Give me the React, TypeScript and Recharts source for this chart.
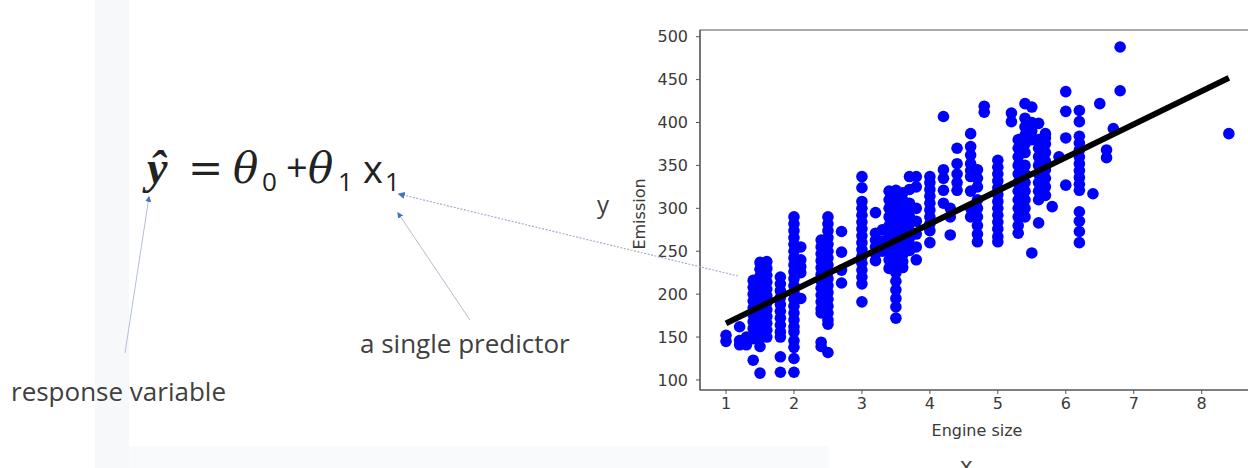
import React from 'react';
import { ScatterChart, Scatter, XAxis, YAxis, ReferenceArea } from 'recharts';

// Engine sizes (x) and the emissions observed at each size (y)
const engineSizes = [1.0, 1.2, 1.3, 1.4, 1.5, 1.6, 1.8, 2.0, 2.1, 2.4, 2.5, 2.7, 3.0, 3.2, 3.3, 3.4, 3.5, 3.6, 3.7, 3.8, 4.0, 4.2, 4.3, 4.4, 4.6, 4.7, 4.8, 5.0, 5.2, 5.3, 5.4, 5.5, 5.6, 5.7, 5.8, 5.9, 6.0, 6.2, 6.4, 6.5, 6.6, 6.7, 6.8, 8.4];
const emissionsBySize: number[][] = [
  [152, 145],
  [162, 146, 141],
  [141, 150],
  [216, 208, 200, 192, 184, 176, 168, 160, 152, 148, 123],
  [237, 229, 221, 213, 205, 197, 189, 181, 173, 165, 157, 150, 139, 108],
  [238, 230, 222, 214, 206, 198, 190, 182, 174, 166, 158, 150],
  [220, 212, 204, 196, 188, 180, 172, 164, 156, 150, 127, 109],
  [290, 282, 274, 266, 258, 250, 242, 234, 226, 218, 210, 202, 194, 186, 178, 170, 162, 156, 146, 138, 125, 109],
  [255, 240, 232, 225, 195],
  [263, 255, 247, 239, 231, 223, 215, 207, 199, 191, 183, 178, 144, 139],
  [290, 282, 274, 266, 258, 250, 242, 234, 226, 218, 210, 202, 194, 186, 178, 170, 165, 132],
  [273, 249, 228, 213],
  [337, 324, 308, 300, 292, 284, 276, 268, 260, 252, 244, 236, 228, 220, 212, 191],
  [295, 271, 263, 255, 247, 239],
  [275, 262, 250],
  [320, 310, 300, 290, 280, 270, 260, 250, 240, 230],
  [321, 313, 305, 297, 289, 281, 273, 265, 257, 249, 241, 233, 225, 215, 205, 195, 185, 172],
  [318, 310, 302, 294, 286, 278, 270, 262, 254, 246, 238, 231],
  [337, 322, 306, 298, 290, 282, 274, 266, 258, 251],
  [337, 325, 300, 285, 270, 255, 240],
  [337, 330, 322, 314, 306, 298, 290, 282, 274, 260],
  [407, 345, 335, 321, 306],
  [269, 290, 300],
  [370, 352, 340, 330, 321],
  [387, 372, 362, 352, 344, 337, 320, 300, 290],
  [345, 335, 325, 310, 300, 290, 280, 270, 261],
  [419, 412],
  [356, 348, 340, 332, 324, 316, 308, 300, 292, 284, 276, 267, 261],
  [411, 401],
  [380, 370, 360, 350, 340, 330, 320, 310, 300, 290, 280, 271],
  [422, 405, 395, 385, 375, 365, 350, 340, 330, 320, 310, 300, 290],
  [418, 400, 390, 380, 248],
  [399, 380, 370, 360, 350, 340, 330, 320, 310, 283],
  [387, 382, 375, 365, 355, 345, 335, 325, 315],
  [302],
  [360],
  [436, 413, 382, 327],
  [414, 401, 384, 376, 368, 360, 352, 344, 336, 328, 321, 296, 285, 273, 260],
  [317],
  [422],
  [368, 359],
  [393],
  [488, 437],
  [387],
];

// Fitted line end points
const fitX = [1.0, 8.4];
const fitY = [166, 452];

const xTicks = [1, 2, 3, 4, 5, 6, 7, 8];
const yTicks = [100, 150, 200, 250, 300, 350, 400, 450, 500];
const xDomain = [0.617, 8.77];
const yDomain = [88.3, 507.8];

const points = engineSizes.flatMap((s, i) => emissionsBySize[i].map((e) => ({ x: s, y: e })));
const fitData = fitX.map((x, i) => ({ x, y: fitY[i] }));

const tickStyle = { fill: '#3a3a3a', fontSize: 16, fontFamily: 'DejaVu Sans' };

const Dot = (p: any) => <circle cx={p.cx} cy={p.cy} r={5.8} fill="#0000ff" />;
const NoDot = () => <g />;

export default function App() {
  return (
    <div style={{ position: 'absolute', left: 0, top: 0, width: 1248, height: 468, overflow: 'hidden', background: '#ffffff' }}>
      <svg width={1248} height={468} style={{ position: 'absolute', left: 0, top: 0 }}>
        <rect x={95} y={0} width={34} height={468} fill="#f7f8fa" />
        <rect x={129} y={446} width={700} height={22} fill="#f9fafb" />
      </svg>
      <div style={{ position: 'absolute', left: 0, top: 0 }}>
        <ScatterChart width={1260} height={468} margin={{ top: 30, right: 6, bottom: 28, left: 640 }}>
          <XAxis
            type="number"
            dataKey="x"
            domain={xDomain}
            ticks={xTicks}
            allowDataOverflow
            height={50}
            tickSize={4}
            tickMargin={4}
            stroke="#555"
            tick={tickStyle}
            label={(props: any) => {
              const vb = props.viewBox;
              return (
                <text x={vb.x + vb.width / 2} y={vb.y + 46} textAnchor="middle" fill="#3a3a3a" fontSize={16} fontFamily="DejaVu Sans">
                  Engine size
                </text>
              );
            }}
          />
          <YAxis
            type="number"
            dataKey="y"
            domain={yDomain}
            ticks={yTicks}
            allowDataOverflow
            width={60}
            tickSize={4}
            tickMargin={8}
            stroke="#555"
            tick={tickStyle}
            label={(props: any) => {
              const vb = props.viewBox;
              const cx = vb.x + vb.width - 61;
              const cy = vb.y + vb.height / 2 + 4;
              return (
                <text x={cx} y={cy} transform={`rotate(-90, ${cx}, ${cy})`} textAnchor="middle" dominantBaseline="central" fill="#3a3a3a" fontSize={16} fontFamily="DejaVu Sans">
                  Emission
                </text>
              );
            }}
          />
          <ReferenceArea x1={xDomain[0]} x2={xDomain[1]} y1={yDomain[0]} y2={yDomain[1]} fill="none" stroke="#555" strokeWidth={1.2} />
          <Scatter data={points} shape={Dot} isAnimationActive={false} />
          <Scatter data={fitData} shape={NoDot} line={{ stroke: '#000', strokeWidth: 6 }} isAnimationActive={false} />
        </ScatterChart>
      </div>
      <svg width={1248} height={468} style={{ position: 'absolute', left: 0, top: 0, pointerEvents: 'none' }}>
        <defs>
          <marker id="ah" viewBox="0 0 10 10" refX="8" refY="5" markerWidth="6" markerHeight="6" orient="auto-start-reverse">
            <path d="M0,0 L10,5 L0,10 z" fill="#4472c4" />
          </marker>
        </defs>
        <line x1={125} y1={353} x2={149} y2={197} stroke="#b3bed5" strokeWidth={1} markerEnd="url(#ah)" />
        <line x1={470} y1={320} x2={398} y2={213} stroke="#b3bed5" strokeWidth={1} markerEnd="url(#ah)" />
        <line x1={738} y1={276} x2={399} y2={194} stroke="#a3b0cc" strokeWidth={1.2} strokeDasharray="2 1.5" markerEnd="url(#ah)" />
        <g fill="#222">
          <text x={147} y={183} fontFamily="Liberation Serif" fontWeight="bold" fontStyle="italic" fontSize={46}>ŷ</text>
          <text x={188} y={183} fontFamily="DejaVu Serif" fontSize={42}>=</text>
          <text x={233} y={183} fontFamily="DejaVu Serif" fontStyle="italic" fontSize={42}>θ</text>
          <text x={262} y={191} fontFamily="Open Sans" fontSize={26}>0</text>
          <text x={286} y={181} fontFamily="Open Sans" fontSize={38}>+</text>
          <text x={308} y={183} fontFamily="DejaVu Serif" fontStyle="italic" fontSize={42}>θ</text>
          <text x={338} y={191} fontFamily="Open Sans" fontSize={26}>1</text>
          <text x={363} y={183} fontFamily="Open Sans" fontSize={38}>x</text>
          <text x={385} y={191} fontFamily="Open Sans" fontSize={26}>1</text>
        </g>
        <g fill="#404040" fontFamily="Open Sans" fontSize={26}>
          <text x={11} y={401}>response variable</text>
          <text x={360} y={353}>a single predictor</text>
          <text x={597} y={213} fontSize={24}>y</text>
          <text x={960} y={474} fontSize={24}>x</text>
        </g>
      </svg>
    </div>
  );
}
